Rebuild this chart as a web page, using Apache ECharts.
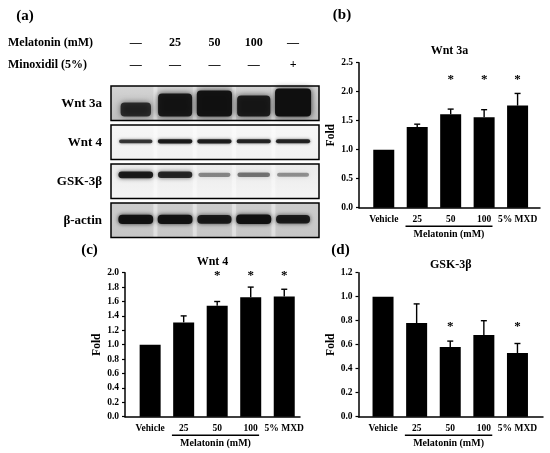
<!DOCTYPE html>
<html><head><meta charset="utf-8">
<script src="https://cdn.jsdelivr.net/npm/echarts@6/dist/echarts.min.js"></script>
<style>html,body{margin:0;padding:0;background:#fff}#c{width:550px;height:453px}</style>
</head><body><div id="c"></div>
<script>
// ---------- data ----------
const categories = ['Vehicle', '25', '50', '100', '5% MXD'];
const melatoninSpan = [1, 3];               // categories under the "Melatonin (mM)" bracket

const wnt3aMean = [1.00, 1.39, 1.61, 1.56, 1.76];
const wnt3aSD   = [0, 0.05, 0.09, 0.13, 0.21];
const wnt3aSig  = [0, 0, 1, 1, 1];
const wnt3aStarY = 2.24;
const wnt3aTicks = [0, 0.5, 1.0, 1.5, 2.0, 2.5];

const wnt4Mean = [1.00, 1.31, 1.54, 1.66, 1.67];
const wnt4SD   = [0, 0.09, 0.06, 0.14, 0.10];
const wnt4Sig  = [0, 0, 1, 1, 1];
const wnt4StarY = 1.98;
const wnt4Ticks = [0, 0.2, 0.4, 0.6, 0.8, 1.0, 1.2, 1.4, 1.6, 1.8, 2.0];

const gskMean = [1.00, 0.78, 0.58, 0.68, 0.53];
const gskSD   = [0, 0.16, 0.05, 0.12, 0.08];
const gskSig  = [0, 0, 1, 0, 1];
const gskStarY = 0.77;
const gskTicks = [0, 0.2, 0.4, 0.6, 0.8, 1.0, 1.2];

// western blot (a)
const melatoninRow = ['—', '25', '50', '100', '—'];
const minoxidilRow = ['—', '—', '—', '—', '+'];
const proteins = ['Wnt 3a', 'Wnt 4', 'GSK-3β', 'β-actin'];
const wnt3aBand = [0.30, 0.75, 0.90, 0.65, 1.00];   // relative band density per lane
const wnt4Band  = [0.60, 0.90, 0.85, 0.80, 0.80];
const gskBand   = [0.95, 0.85, 0.30, 0.40, 0.25];
const actinBand = [0.95, 0.95, 0.80, 1.00, 0.75];
const bandDensities = [wnt3aBand, wnt4Band, gskBand, actinBand];

// ---------- styling ----------
const FONT = '"Liberation Serif", "Times New Roman", "DejaVu Serif", serif';
const blotStyle = [
  {bg: ['#d4d4d4', '#bfbfbf'], t0: 8, t1: 20, w0: 28, w1: 8, a0: 0.72, a1: 0.28, blur: 6, anchor: 'bottom', dy: 0},
  {bg: ['#f7f7f7', '#f1f1f1'], t0: 2.5, t1: 2, w0: 31, w1: 4, a0: 0.45, a1: 0.5, blur: 3, anchor: 'center', dy: -1},
  {bg: ['#ebebeb', '#f4f4f4'], t0: 3, t1: 4, w0: 31, w1: 4, a0: 0.2, a1: 0.75, blur: 4, anchor: 'center', dy: -6.5},
  {bg: ['#cccccc', '#c6c6c6'], t0: 5.5, t1: 4, w0: 31, w1: 4, a0: 0.6, a1: 0.38, blur: 4, anchor: 'center', dy: -1}
];

const panels = [
  {mean: wnt3aMean, sd: wnt3aSD, sig: wnt3aSig, starY: wnt3aStarY, ticks: wnt3aTicks, title: 'Wnt 3a', letter: '(b)',
   box: [359, 62.7, 540, 207.7], xr: [-0.74, 4.67], nameGap: 14.5, titleY: 51, letterPos: [342, 15]},
  {mean: wnt4Mean, sd: wnt4SD, sig: wnt4Sig, starY: wnt4StarY, ticks: wnt4Ticks, title: 'Wnt 4', letter: '(c)',
   box: [125, 272.7, 300, 416.7], xr: [-0.75, 4.47], nameGap: 19.5, titleY: 262, letterPos: [89.5, 250]},
  {mean: gskMean, sd: gskSD, sig: gskSig, starY: gskStarY, ticks: gskTicks, title: 'GSK-3β', letter: '(d)',
   box: [358.5, 272.7, 543, 416.7], xr: [-0.73, 4.76], nameGap: 19, titleY: 265, letterPos: [340.5, 250]}
];

const textStyleBase = {fontFamily: FONT, fontWeight: 'bold', color: '#000'};

const grids = [], xAxes = [], yAxes = [], series = [], graphics = [];

panels.forEach((p, k) => {
  const [L, T, R, B] = p.box;
  grids.push({left: L, top: T, width: R - L, height: B - T, outerBoundsMode: 'none', containLabel: false});
  xAxes.push({
    gridIndex: k, type: 'value', min: p.xr[0], max: p.xr[1],
    axisLine: {show: true, onZero: false, lineStyle: {color: '#000', width: 1.5}},
    axisTick: {show: false}, splitLine: {show: false},
    axisLabel: Object.assign({customValues: categories.map((c, i) => i),
      formatter: v => categories[Math.round(v)], fontSize: 9.5, margin: 7}, textStyleBase)
  });
  yAxes.push({
    gridIndex: k, type: 'value', min: p.ticks[0], max: p.ticks[p.ticks.length - 1],
    interval: +(p.ticks[1] - p.ticks[0]).toFixed(3),
    axisLine: {show: true, onZero: false, lineStyle: {color: '#000', width: 1.5}},
    axisTick: {show: true, length: 3, lineStyle: {color: '#000', width: 1.2}},
    splitLine: {show: false},
    axisLabel: Object.assign({formatter: v => v.toFixed(1), fontSize: 9.5, margin: 6}, textStyleBase),
    name: 'Fold', nameLocation: 'middle', nameGap: p.nameGap,
    nameTextStyle: Object.assign({fontSize: 11.5}, textStyleBase)
  });
  series.push({
    type: 'bar', xAxisIndex: k, yAxisIndex: k, barWidth: 21,
    data: p.mean.map((v, i) => [i, v]), itemStyle: {color: '#000'}, silent: true, z: 2
  });
  series.push({
    type: 'custom', xAxisIndex: k, yAxisIndex: k, z: 3, silent: true,
    data: p.mean.map((v, i) => [i, v, p.sd[i]]).filter(d => d[2] > 0),
    renderItem: (params, api) => {
      const x = api.value(0), m = api.value(1), e = api.value(2);
      const p0 = api.coord([x, m]), p1 = api.coord([x, m + e]);
      const st = {stroke: '#000', lineWidth: 1.4};
      return {type: 'group', children: [
        {type: 'line', shape: {x1: p0[0], y1: p0[1], x2: p1[0], y2: p1[1]}, style: st},
        {type: 'line', shape: {x1: p1[0] - 3, y1: p1[1], x2: p1[0] + 3, y2: p1[1]}, style: st}
      ]};
    }
  });
  series.push({
    type: 'custom', xAxisIndex: k, yAxisIndex: k, z: 4, silent: true,
    data: p.sig.map((s, i) => s ? [i, p.starY] : null).filter(Boolean),
    renderItem: (params, api) => {
      const c = api.coord([api.value(0), api.value(1)]);
      return {type: 'text', style: {text: '*', x: c[0], y: c[1] + 2, fill: '#000',
        font: 'bold 13px ' + FONT, textAlign: 'center', textVerticalAlign: 'middle'}};
    }
  });
  series.push({
    type: 'custom', xAxisIndex: k, yAxisIndex: k, z: 4, silent: true, clip: false,
    data: [[melatoninSpan[0], 0, melatoninSpan[1]]],
    renderItem: (params, api) => {
      const a = api.coord([api.value(0) - 0.35, 0]);
      const b = api.coord([api.value(2) + 0.25, 0]);
      const y = a[1] + 18.5;
      return {type: 'group', children: [
        {type: 'line', shape: {x1: a[0], y1: y, x2: b[0], y2: y}, style: {stroke: '#000', lineWidth: 1.5}},
        {type: 'text', style: {text: 'Melatonin (mM)', x: (a[0] + b[0]) / 2, y: y + 8, fill: '#000',
          font: 'bold 10px ' + FONT, textAlign: 'center', textVerticalAlign: 'middle'}}
      ]};
    }
  });
  graphics.push({type: 'text', x: (L + R) / 2, y: p.titleY, style: {text: p.title, fill: '#000',
    font: 'bold 12px ' + FONT, textAlign: 'center', textVerticalAlign: 'middle'}});
  graphics.push({type: 'text', x: p.letterPos[0], y: p.letterPos[1], style: {text: p.letter, fill: '#000',
    font: 'bold 15px ' + FONT, textAlign: 'center', textVerticalAlign: 'middle'}});
});

// ---------- blot (a) ----------
const bk = panels.length;
grids.push({left: 111, top: 83.8, width: 208, height: 156, outerBoundsMode: 'none', containLabel: false});
xAxes.push({
  gridIndex: bk, type: 'value', min: -0.63, max: 4.66, position: 'top',
  axisLine: {show: false}, axisTick: {show: false}, splitLine: {show: false},
  axisLabel: Object.assign({customValues: melatoninRow.map((c, i) => i),
    formatter: v => melatoninRow[Math.round(v)] + '\n' + minoxidilRow[Math.round(v)],
    fontSize: 12, lineHeight: 22, margin: 8}, textStyleBase)
});
yAxes.push({
  gridIndex: bk, type: 'category', data: proteins, inverse: true,
  axisLine: {show: false}, axisTick: {show: false}, splitLine: {show: false},
  axisLabel: Object.assign({fontSize: 13, margin: 9}, textStyleBase)
});
series.push({
  type: 'custom', xAxisIndex: bk, yAxisIndex: bk, silent: true, clip: false,
  data: proteins.map((p, i) => [0, i]),
  renderItem: (params, api) => {
    const row = api.value(1);
    const cs = params.coordSys;
    const cy = api.coord([0, row])[1];
    const h = api.size([0, 1])[1];
    const top = cy - h / 2 + 2.25, bh = h - 4.5;
    const st = blotStyle[row];
    const children = [{type: 'rect', shape: {x: cs.x, y: top, width: cs.width, height: bh},
      style: {fill: new echarts.graphic.LinearGradient(0, 0, 0, 1,
        [{offset: 0, color: st.bg[0]}, {offset: 1, color: st.bg[1]}])}}];
    for (let s = 0; s < bandDensities[row].length - 1; s++) {
      const xs = api.coord([s + 0.5, row])[0];
      children.push({type: 'rect', shape: {x: xs - 2, y: top, width: 4, height: bh},
        style: {fill: 'rgba(255,255,255,0.35)', shadowBlur: 3, shadowColor: 'rgba(255,255,255,0.5)'}});
    }
    bandDensities[row].forEach((d, lane) => {
      const x = api.coord([lane, row])[0];
      const th = Math.min(st.t0 + st.t1 * d, bh - 6);
      const w = st.w0 + st.w1 * d;
      const yc = st.anchor === 'bottom' ? top + bh - 4 - th / 2 : cy + st.dy;
      const a = st.a0 + st.a1 * d;
      children.push({type: 'rect', shape: {x: x - w / 2, y: yc - th / 2, width: w, height: th, r: Math.min(th / 2, 4)},
        style: {fill: 'rgba(15,15,15,' + a.toFixed(2) + ')', shadowBlur: st.blur,
          shadowColor: 'rgba(0,0,0,' + (a * 0.8).toFixed(2) + ')'}});
    });
    children.push({type: 'rect', shape: {x: cs.x, y: top, width: cs.width, height: bh},
      style: {fill: 'none', stroke: '#000', lineWidth: 1.5}});
    return {type: 'group', children};
  }
});
graphics.push({type: 'text', x: 25, y: 16, style: {text: '(a)', fill: '#000',
  font: 'bold 15px ' + FONT, textAlign: 'center', textVerticalAlign: 'middle'}});
graphics.push({type: 'text', x: 8, y: 43, style: {text: 'Melatonin (mM)', fill: '#000',
  font: 'bold 12px ' + FONT, textAlign: 'left', textVerticalAlign: 'middle'}});
graphics.push({type: 'text', x: 8, y: 65, style: {text: 'Minoxidil (5%)', fill: '#000',
  font: 'bold 12px ' + FONT, textAlign: 'left', textVerticalAlign: 'middle'}});

const chart = echarts.init(document.getElementById('c'), null, {renderer: 'canvas', width: 550, height: 453});
chart.setOption({
  animation: false,
  backgroundColor: '#fff',
  grid: grids, xAxis: xAxes, yAxis: yAxes, series: series, graphic: graphics
});
</script>
</body></html>
